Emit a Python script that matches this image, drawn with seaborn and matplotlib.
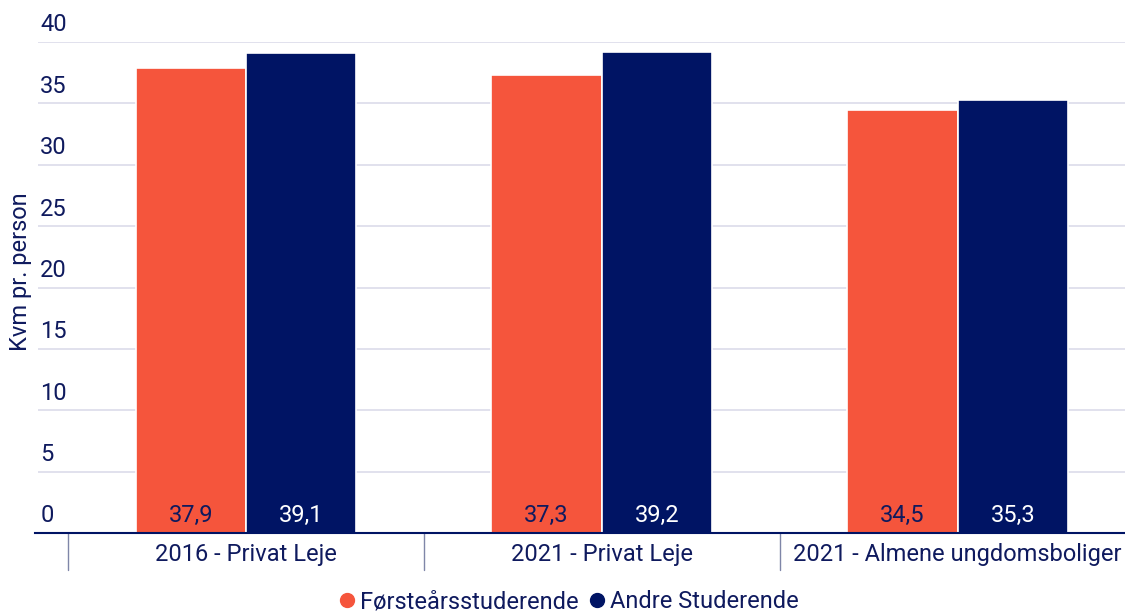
import matplotlib
matplotlib.use("Agg")
import matplotlib.pyplot as plt
import seaborn as sns
import pandas as pd
from matplotlib.lines import Line2D

categories = ["2016 - Privat Leje", "2021 - Privat Leje", "2021 - Almene ungdomsboliger"]
series_names = ["Førsteårsstuderende", "Andre Studerende"]
first_year = [37.9, 37.3, 34.5]
others = [39.1, 39.2, 35.3]
y_ticks = [0, 5, 10, 15, 20, 25, 30, 35, 40]

ORANGE = "#F5553C"
NAVY = "#001464"
TEXT = "#0F1A5E"
GRID = "#DCDCEA"
FS = 17

sns.set_theme(style="white")
plt.rcParams["font.family"] = ["Roboto", "DejaVu Sans"]

df = pd.DataFrame({
    "cat": categories * 2,
    "serie": [series_names[0]] * 3 + [series_names[1]] * 3,
    "val": first_year + others,
})

fig = plt.figure(figsize=(11.25, 6.14), dpi=100)
ax = fig.add_axes([38 / 1125, (614 - 533) / 614, 1 - 38 / 1125, (533 - 42) / 614])

sns.barplot(data=df, x="cat", y="val", hue="serie", order=categories,
            hue_order=series_names, palette=[ORANGE, NAVY], width=0.62,
            edgecolor="white", linewidth=1.2, saturation=1, ax=ax, legend=False)

ax.set_ylim(0, 40)
ax.set_xlim(-0.584, 2.47)
ax.set_yticks(y_ticks)
ax.set_yticklabels([])
ax.tick_params(axis="y", length=0)
ax.tick_params(axis="x", length=0, pad=7, labelsize=FS, labelcolor=TEXT)
ax.set_xlabel("")
ax.set_ylabel("")
for s in ["top", "right", "left"]:
    ax.spines[s].set_visible(False)
ax.spines["bottom"].set_color(NAVY)
ax.spines["bottom"].set_linewidth(1.5)
ax.spines["bottom"].set_bounds(-0.592, 2.47)
for t in y_ticks:
    if t > 0:
        ax.axhline(t, color=GRID, lw=1.2, zorder=0)
    ax.text(-0.578, t + 0.45, str(t), ha="left", va="bottom", fontsize=FS,
            color=TEXT, clip_on=False)

# category separators below axis
trans = ax.get_xaxis_transform()
for xs in [-0.5, 0.5, 1.5]:
    ax.add_line(Line2D([xs, xs], [0, -37 / 491], transform=trans, color="#7F86A8",
                       lw=1, clip_on=False))

# value labels at bottom of bars
for cont, tc in zip(ax.containers, [TEXT, "white"]):
    for bar in cont:
        v = bar.get_height()
        ax.text(bar.get_x() + bar.get_width() / 2, 0.5, f"{v:.1f}".replace(".", ","),
                ha="center", va="bottom", fontsize=FS, color=tc)

fig.text(21 / 1125, 1 - 272 / 614, "Kvm pr. person", rotation=90, ha="center",
         va="center", fontsize=FS, color=TEXT)

handles = [Line2D([], [], marker="o", ls="", color=c, markersize=10) for c in [ORANGE, NAVY]]
fig.legend(handles, series_names, loc="center", bbox_to_anchor=(567 / 1125, 1 - 602 / 614),
           ncol=2, frameon=False, fontsize=FS, labelcolor=TEXT, handletextpad=0.05,
           columnspacing=0.3, handlelength=1.0)

fig.savefig("out.png", dpi=100)
